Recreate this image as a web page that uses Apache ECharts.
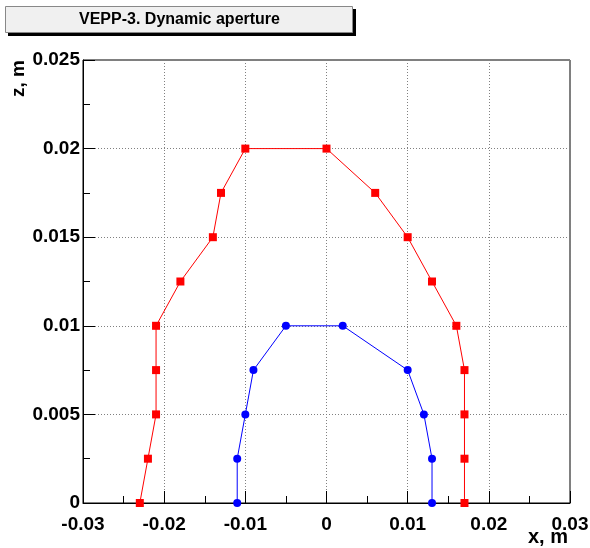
<!DOCTYPE html>
<html>
<head>
<meta charset="utf-8">
<script src="https://cdn.jsdelivr.net/npm/echarts@6/dist/echarts.min.js"></script>
<style>
html,body{margin:0;padding:0;background:#fff;}
#chart{width:590px;height:548px;}
</style>
</head>
<body>
<div id="chart"></div>
<script>
// Data (x, z in metres)
var titleText = "VEPP-3. Dynamic aperture";
var xAxisName = "x, m";
var zAxisName = "z, m";
var redX = [-0.023, -0.022, -0.021, -0.021, -0.021, -0.018, -0.014, -0.013, -0.010, 0.000, 0.006, 0.010, 0.013, 0.016, 0.017, 0.017, 0.017, 0.017];
var redZ = [0.0, 0.0025, 0.005, 0.0075, 0.01, 0.0125, 0.015, 0.0175, 0.02, 0.02, 0.0175, 0.015, 0.0125, 0.01, 0.0075, 0.005, 0.0025, 0.0];
var blueX = [-0.011, -0.011, -0.010, -0.009, -0.005, 0.002, 0.010, 0.012, 0.013, 0.013];
var blueZ = [0.0, 0.0025, 0.005, 0.0075, 0.01, 0.01, 0.0075, 0.005, 0.0025, 0.0];

function pairs(xs, zs){ return xs.map(function(v,i){ return [v, zs[i]]; }); }

var FONT = "Liberation Sans, Arial, Helvetica, sans-serif";
var chart = echarts.init(document.getElementById('chart'), null, {renderer:'canvas'});
var labelStyle = {color:'#000', fontFamily:FONT, fontWeight:'bold', fontSize:19};
chart.setOption({
  animation:false,
  backgroundColor:'#fff',
  grid:{left:83, top:60, width:487, height:443, containLabel:false, outerBoundsMode:'none',
        show:true, borderColor:'#000', borderWidth:1, backgroundColor:'transparent'},
  xAxis:{
    type:'value', min:-0.03, max:0.03, interval:0.01,
    axisLine:{show:true, onZero:false, lineStyle:{color:'#000', width:1}},
    axisTick:{show:true, inside:true, length:12, lineStyle:{color:'#000'}},
    minorTick:{show:true, splitNumber:2, length:7, lineStyle:{color:'#000'}},
    splitLine:{show:true, lineStyle:{color:'#808080', type:[1,2], width:1}},
    axisLabel:{margin:12, ...labelStyle, formatter:function(v){return String(+v.toFixed(3));}}
  },
  yAxis:{
    type:'value', min:0, max:0.025, interval:0.005,
    axisLine:{show:true, onZero:false, lineStyle:{color:'#000', width:1}},
    axisTick:{show:true, inside:true, length:12, lineStyle:{color:'#000'}},
    minorTick:{show:true, splitNumber:2, length:7, lineStyle:{color:'#000'}},
    splitLine:{show:true, lineStyle:{color:'#808080', type:[1,2], width:1}},
    axisLabel:{margin:3, ...labelStyle, formatter:function(v){return String(+v.toFixed(4));}}
  },
  series:[
    {type:'line', data:pairs(redX, redZ), symbol:'rect', symbolSize:8,
     lineStyle:{color:'#ff0000', width:1}, itemStyle:{color:'#ff0000'}, z:3},
    {type:'line', data:pairs(blueX, blueZ), symbol:'circle', symbolSize:8,
     lineStyle:{color:'#0000ff', width:1}, itemStyle:{color:'#0000ff'}, z:4}
  ],
  graphic:[
    {type:'rect', shape:{x:8, y:9, width:348, height:27}, style:{fill:'#000'}, z:10},
    {type:'rect', shape:{x:5.5, y:6.5, width:347, height:26}, style:{fill:'#f0f0f0', stroke:'#888', lineWidth:1}, z:11},
    {type:'text', x:179.5, y:20, style:{text:titleText, fill:'#000', font:'bold 16px '+FONT, align:'center', verticalAlign:'middle'}, z:12},
    {type:'text', x:19, y:60, rotation:Math.PI/2, style:{text:zAxisName, fill:'#000', font:'bold 19px '+FONT, align:'right', verticalAlign:'middle'}, z:12},
    {type:'text', x:568, y:537, style:{text:xAxisName, fill:'#000', font:'bold 20px '+FONT, align:'right', verticalAlign:'middle'}, z:12}
  ]
});
</script>
</body>
</html>
